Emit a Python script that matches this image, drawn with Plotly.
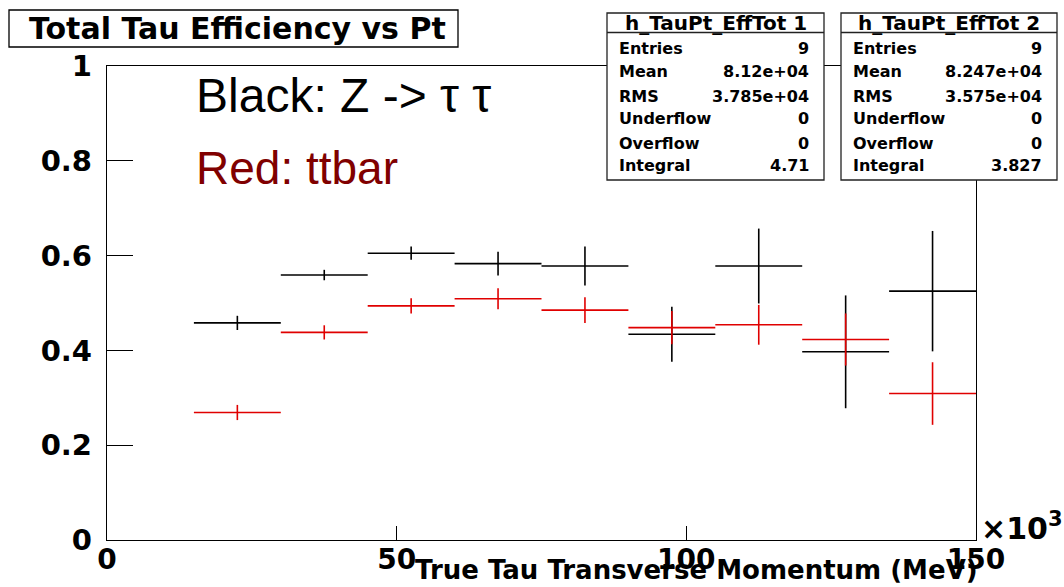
import numpy as np
import plotly.graph_objects as go

# Binning of the true tau pT (units of 10^3 MeV)
bin_edges = [15, 30, 45, 60, 75, 90, 105, 120, 135, 150]

# Total tau efficiency per bin, Z -> tau tau sample (black)
ztautau_eff = [0.458, 0.559, 0.605, 0.583, 0.578, 0.434, 0.578, 0.397, 0.525]
ztautau_err = [0.015, 0.011, 0.014, 0.025, 0.041, 0.058, 0.079, 0.119, 0.127]

# Total tau efficiency per bin, ttbar sample (red)
ttbar_eff = [0.269, 0.438, 0.494, 0.509, 0.485, 0.448, 0.454, 0.423, 0.309]
ttbar_err = [0.016, 0.015, 0.016, 0.022, 0.027, 0.035, 0.042, 0.055, 0.066]

# Statistics boxes
stat_labels = ["Entries", "Mean", "RMS", "Underflow", "Overflow", "Integral"]
stats_1 = ["9", "8.12e+04", "3.785e+04", "0", "0", "4.71"]
stats_2 = ["9", "8.247e+04", "3.575e+04", "0", "0", "3.827"]

x_ticks = [0, 50, 100, 150]
y_ticks = [0, 0.2, 0.4, 0.6, 0.8, 1]

W, H = 1064, 587
L, R, T, B = 107, 88, 66, 47
PW, PH = W - L - R, H - T - B

edges = np.array(bin_edges, dtype=float)
centers = 0.5 * (edges[:-1] + edges[1:])
half_widths = 0.5 * np.diff(edges)


def px(x):
    return (x - L) / PW


def py(y):
    return (H - B - y) / PH


BOLD = dict(family="DejaVu Sans", color="black", weight="bold")


def hist_trace(values, errors, color):
    return go.Scatter(
        x=centers, y=values, mode="markers",
        marker=dict(size=0.1, color=color, opacity=0),
        error_x=dict(type="data", array=half_widths, symmetric=True,
                     width=0, thickness=1.6, color=color),
        error_y=dict(type="data", array=errors, symmetric=True,
                     width=0, thickness=1.6, color=color),
        showlegend=False, hoverinfo="skip",
    )


fig = go.Figure()
fig.add_trace(hist_trace(ztautau_eff, ztautau_err, "black"))
fig.add_trace(hist_trace(ttbar_eff, ttbar_err, "#e00000"))

shapes = []
annotations = []

# Title box
shapes.append(dict(type="rect", xref="paper", yref="paper",
                   x0=px(9), x1=px(458), y0=py(47), y1=py(10),
                   line=dict(color="black", width=1.3), fillcolor="white",
                   layer="above"))
annotations.append(dict(x=px(237), y=py(29), xref="paper", yref="paper",
                        text="Total Tau Efficiency vs Pt", showarrow=False,
                        xanchor="center", yanchor="middle",
                        font=dict(size=30, **BOLD)))

# Statistics boxes
row_y = [48, 72, 96, 119, 143, 165]
for (x0, x1), name, vals in [((607, 824), "h_TauPt_EffTot 1", stats_1),
                             ((841, 1057), "h_TauPt_EffTot 2", stats_2)]:
    shapes.append(dict(type="rect", xref="paper", yref="paper",
                       x0=px(x0), x1=px(x1), y0=py(180), y1=py(13),
                       line=dict(color="#222", width=1.3), fillcolor="white",
                       layer="above"))
    shapes.append(dict(type="line", xref="paper", yref="paper",
                       x0=px(x0), x1=px(x1), y0=py(32.5), y1=py(32.5),
                       line=dict(color="#222", width=1.3), layer="above"))
    annotations.append(dict(x=px((x0 + x1) / 2), y=py(23), xref="paper",
                            yref="paper", text=name, showarrow=False,
                            xanchor="center", yanchor="middle",
                            font=dict(size=20, **BOLD)))
    for lab, val, yy in zip(stat_labels, vals, row_y):
        annotations.append(dict(x=px(x0 + 10), y=py(yy), xref="paper",
                                yref="paper", text=lab, showarrow=False,
                                xanchor="left", yanchor="middle",
                                font=dict(size=16, **BOLD)))
        annotations.append(dict(x=px(x1 - 13), y=py(yy), xref="paper",
                                yref="paper", text=val, showarrow=False,
                                xanchor="right", yanchor="middle",
                                font=dict(size=16, **BOLD)))

# Sample labels
annotations.append(dict(x=px(194), y=py(95), xref="paper", yref="paper",
                        text="Black: Z -> \u03c4 \u03c4", showarrow=False,
                        xanchor="left", yanchor="middle",
                        font=dict(family="Liberation Sans", size=48,
                                  color="black")))
annotations.append(dict(x=px(194), y=py(168), xref="paper", yref="paper",
                        text="Red: ttbar", showarrow=False,
                        xanchor="left", yanchor="middle",
                        font=dict(family="Liberation Sans", size=46,
                                  color="#800000")))

# Axis title and exponent
annotations.append(dict(x=px(980), y=py(570), xref="paper", yref="paper",
                        text="True Tau Transverse Momentum (MeV)",
                        showarrow=False, xanchor="right", yanchor="middle",
                        font=dict(size=26, **BOLD)))
annotations.append(dict(x=px(979), y=py(526), xref="paper", yref="paper",
                        text="\u00d710<sup>3</sup>", showarrow=False,
                        xanchor="left", yanchor="middle",
                        font=dict(size=30, **BOLD)))

fig.update_layout(
    width=W, height=H,
    margin=dict(l=L, r=R, t=T, b=B, pad=0, autoexpand=False),
    paper_bgcolor="white", plot_bgcolor="white",
    shapes=shapes, annotations=annotations,
    showlegend=False,
)
fig.update_xaxes(range=[0, 150], tickvals=x_ticks, ticks="inside",
                 ticklen=14, tickwidth=1.2, tickcolor="black",
                 showline=True, linecolor="black", linewidth=1.3, mirror=True,
                 showgrid=False, zeroline=False, automargin=False,
                 ticklabelstandoff=-6,
                 tickfont=dict(size=28, **BOLD))
fig.update_yaxes(range=[0, 1], tickvals=y_ticks, ticks="inside",
                 ticklen=26, tickwidth=1.2, tickcolor="black",
                 showline=True, linecolor="black", linewidth=1.3, mirror=True,
                 showgrid=False, zeroline=False, automargin=False,
                 ticklabelstandoff=8,
                 tickfont=dict(size=29, **BOLD))

fig.write_html("out.html")
